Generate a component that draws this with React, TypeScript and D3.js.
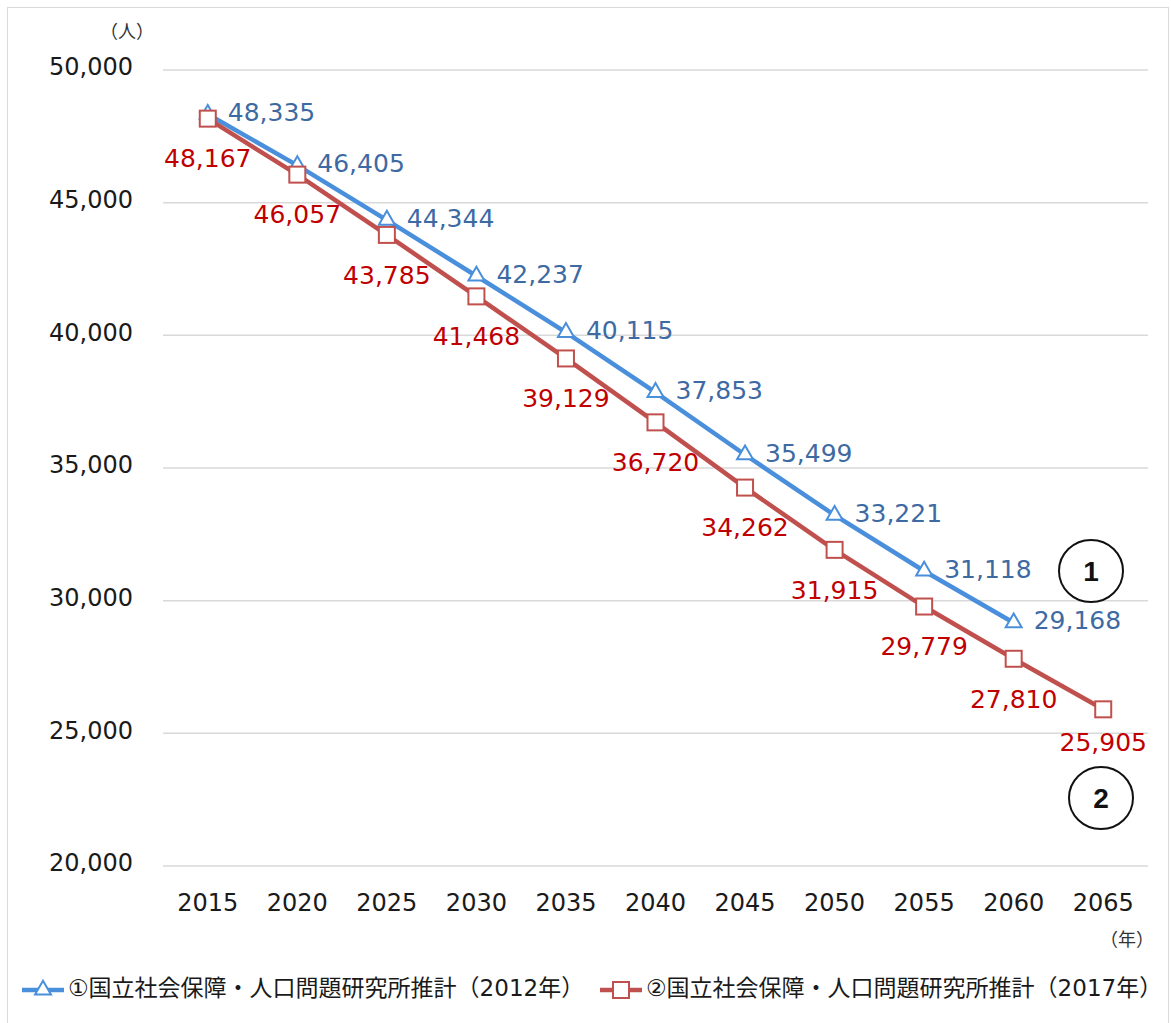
import React, { useEffect, useRef } from 'react';
import * as d3 from 'd3';

// Data: population projection (人)
const years = ['2015', '2020', '2025', '2030', '2035', '2040', '2045', '2050', '2055', '2060', '2065'];
const est2012 = [48335, 46405, 44344, 42237, 40115, 37853, 35499, 33221, 31118, 29168];
const est2017 = [48167, 46057, 43785, 41468, 39129, 36720, 34262, 31915, 29779, 27810, 25905];
const yTicks = [20000, 25000, 30000, 35000, 40000, 45000, 50000];
const seriesNames = [
  '①国立社会保障・人口問題研究所推計（2012年）',
  '②国立社会保障・人口問題研究所推計（2017年）',
];

const W = 1171;
const H = 1023;
const FONT = '"DejaVu Sans", "Noto Sans CJK JP", sans-serif';
const BLUE = '#4A8FDB';
const BLUE_TEXT = '#3E6AA3';
const RED = '#C0504D';
const RED_TEXT = '#C00000';

const App = () => {
  const svgRef = useRef<SVGSVGElement>(null);

  useEffect(() => {
    const svg = d3.select(svgRef.current);
    svg.selectAll('*').remove();

    // outer frame
    svg.append('rect')
      .attr('x', 7.5).attr('y', 7.5)
      .attr('width', 1161).attr('height', 1040)
      .attr('fill', 'white').attr('stroke', '#D9D9D9');

    const x = d3.scaleBand<string>().domain(years).range([163, 1148]);
    const cx = (yr: string) => (x(yr) as number) + x.bandwidth() / 2;
    const y = d3.scaleLinear().domain([20000, 50000]).range([866, 70]);

    // gridlines
    svg.append('g')
      .selectAll('line')
      .data(yTicks)
      .enter()
      .append('line')
      .attr('x1', 163).attr('x2', 1148)
      .attr('y1', (d) => y(d)).attr('y2', (d) => y(d))
      .attr('stroke', '#D9D9D9').attr('stroke-width', 1.5);

    // y tick labels
    const fmt = d3.format(',');
    svg.append('g')
      .selectAll('text')
      .data(yTicks)
      .enter()
      .append('text')
      .attr('x', 133)
      .attr('y', (d) => y(d) - 3)
      .attr('dy', '0.35em')
      .attr('text-anchor', 'end')
      .style('font-family', FONT)
      .style('font-size', '24px')
      .attr('fill', '#1a1a1a')
      .text((d) => fmt(d));

    // x tick labels
    svg.append('g')
      .selectAll('text')
      .data(years)
      .enter()
      .append('text')
      .attr('x', (d) => cx(d))
      .attr('y', 903)
      .attr('dy', '0.35em')
      .attr('text-anchor', 'middle')
      .style('font-family', FONT)
      .style('font-size', '24px')
      .attr('fill', '#1a1a1a')
      .text((d) => d);

    // unit labels
    svg.append('text')
      .attr('x', 127).attr('y', 32).attr('dy', '0.35em')
      .attr('text-anchor', 'middle')
      .style('font-family', FONT).style('font-size', '18px')
      .attr('fill', '#333')
      .text('（人）');
    svg.append('text')
      .attr('x', 1127).attr('y', 940).attr('dy', '0.35em')
      .attr('text-anchor', 'middle')
      .style('font-family', FONT).style('font-size', '18px')
      .attr('fill', '#333')
      .text('（年）');

    const line = d3.line<number>()
      .x((d, i) => cx(years[i]))
      .y((d) => y(d));

    const triangle = d3.symbol().type(d3.symbolTriangle).size(110);

    // series 1 (2012)
    svg.append('path')
      .datum(est2012)
      .attr('d', line)
      .attr('fill', 'none')
      .attr('stroke', BLUE)
      .attr('stroke-width', 4.5);
    svg.append('g')
      .selectAll('path')
      .data(est2012)
      .enter()
      .append('path')
      .attr('d', triangle)
      .attr('transform', (d, i) => `translate(${cx(years[i])},${y(d)})`)
      .attr('fill', 'white')
      .attr('stroke', BLUE)
      .attr('stroke-width', 2);
    svg.append('g')
      .selectAll('text')
      .data(est2012)
      .enter()
      .append('text')
      .attr('x', (d, i) => cx(years[i]) + 20)
      .attr('y', (d) => y(d) - 2)
      .attr('dy', '0.35em')
      .style('font-family', FONT)
      .style('font-size', '25px')
      .attr('fill', BLUE_TEXT)
      .text((d) => fmt(d));

    // series 2 (2017)
    svg.append('path')
      .datum(est2017)
      .attr('d', line)
      .attr('fill', 'none')
      .attr('stroke', RED)
      .attr('stroke-width', 4.5);
    svg.append('g')
      .selectAll('rect')
      .data(est2017)
      .enter()
      .append('rect')
      .attr('x', (d, i) => cx(years[i]) - 8)
      .attr('y', (d) => y(d) - 8)
      .attr('width', 16).attr('height', 16)
      .attr('fill', 'white')
      .attr('stroke', RED)
      .attr('stroke-width', 2);
    svg.append('g')
      .selectAll('text')
      .data(est2017)
      .enter()
      .append('text')
      .attr('x', (d, i) => cx(years[i]))
      .attr('y', (d, i) => y(d) + (i === est2017.length - 1 ? 33 : 40))
      .attr('dy', '0.35em')
      .attr('text-anchor', 'middle')
      .style('font-family', FONT)
      .style('font-size', '25px')
      .attr('fill', RED_TEXT)
      .text((d) => fmt(d));

    // circled series markers
    const tags = [
      { label: '1', x: 1091, y: 571 },
      { label: '2', x: 1101, y: 798 },
    ];
    tags.forEach((t) => {
      svg.append('ellipse')
        .attr('cx', t.x).attr('cy', t.y)
        .attr('rx', 32).attr('ry', 31)
        .attr('fill', 'white')
        .attr('stroke', '#111').attr('stroke-width', 2);
      svg.append('text')
        .attr('x', t.x).attr('y', t.y).attr('dy', '0.36em')
        .attr('text-anchor', 'middle')
        .style('font-family', '"Liberation Sans", Arial, sans-serif')
        .style('font-size', '28px')
        .style('font-weight', 'bold')
        .attr('fill', '#111')
        .text(t.label);
    });

    // legend
    const legend = [
      { name: seriesNames[0], color: BLUE, x0: 22, mark: 'tri' },
      { name: seriesNames[1], color: RED, x0: 600, mark: 'sq' },
    ];
    legend.forEach((l) => {
      const ly = 990;
      svg.append('line')
        .attr('x1', l.x0).attr('x2', l.x0 + 42)
        .attr('y1', ly).attr('y2', ly)
        .attr('stroke', l.color).attr('stroke-width', 4.5);
      if (l.mark === 'tri') {
        svg.append('path')
          .attr('d', triangle)
          .attr('transform', `translate(${l.x0 + 21},${ly})`)
          .attr('fill', 'white').attr('stroke', l.color).attr('stroke-width', 2);
      } else {
        svg.append('rect')
          .attr('x', l.x0 + 13).attr('y', ly - 8)
          .attr('width', 16).attr('height', 16)
          .attr('fill', 'white').attr('stroke', l.color).attr('stroke-width', 2);
      }
      svg.append('text')
        .attr('x', l.x0 + 46).attr('y', ly - 2).attr('dy', '0.35em')
        .style('font-family', FONT)
        .style('font-size', '23px')
        .attr('fill', '#1a1a1a')
        .text(l.name);
    });
  }, []);

  return (
    <div style={{ position: 'absolute', left: 0, top: 0 }}>
      <svg ref={svgRef} width={W} height={H} style={{ display: 'block' }}></svg>
    </div>
  );
};

export default App;
